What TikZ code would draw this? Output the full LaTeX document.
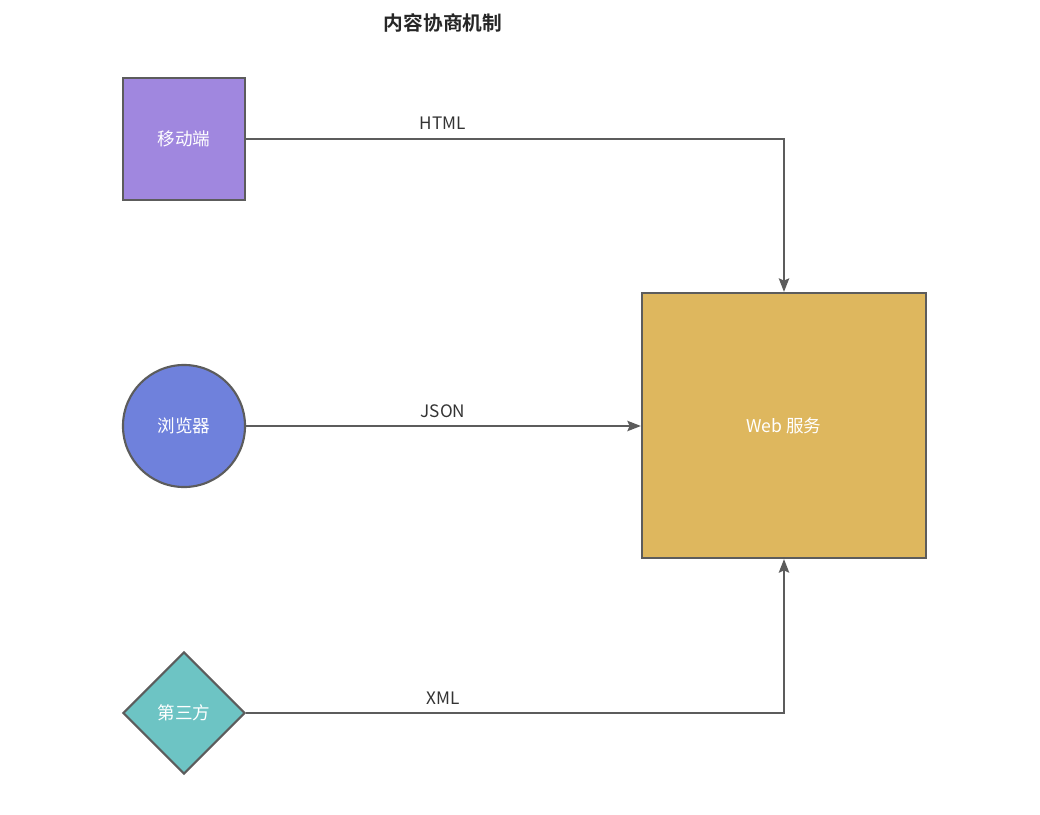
\documentclass[tikz,border=0pt]{standalone}
\usepackage{fontspec}
\setmainfont{Noto Sans CJK SC}[BoldFont={Noto Sans CJK SC Bold}]
\usetikzlibrary{shapes.geometric,arrows.meta}

\definecolor{edgegray}{HTML}{5C5C5C}
\definecolor{mobilefill}{HTML}{A087DF}
\definecolor{browserfill}{HTML}{6F81DC}
\definecolor{thirdfill}{HTML}{6DC4C4}
\definecolor{webfill}{HTML}{DEB75E}
\definecolor{labelgray}{HTML}{333333}

\tikzset{
  client/.style={draw=edgegray,line width=1.5pt,text=white,font=\fontsize{12.5}{14}\selectfont,inner sep=0pt},
  flow/.style={draw=edgegray,line width=1.5pt,-{Stealth[length=3.4mm,width=2.6mm,inset=0.6mm]}},
  fmt/.style={text=labelgray,font=\fontsize{12.2}{14}\selectfont}
}

\begin{document}
\begin{tikzpicture}[x=0.025cm,y=-0.025cm]
%\draw[help lines] (0,0) grid (1040,815);
\useasboundingbox (0,0) rectangle (1040,815);

\node[font=\bfseries\fontsize{14}{16}\selectfont,text=black!85] (title) at (443,23) {内容协商机制};

\node[client,rectangle,fill=mobilefill,minimum width=3.05cm,minimum height=3.05cm] (mobile) at (184,139) {移动端};
\node[client,circle,fill=browserfill,minimum size=3.05cm] (browser) at (184,426) {浏览器};
\node[client,diamond,fill=thirdfill,minimum width=3.05cm,minimum height=3.05cm] (third) at (184,713) {第三方};
\node[client,rectangle,fill=webfill,minimum width=7.1cm,minimum height=6.625cm] (web) at (784,425.5) {Web 服务};

\draw[flow] (mobile.east) -| (web.north);
\draw[flow] (browser.east) -- (browser.east -| web.west);
\draw[flow] (third.east) -| (web.south);

\node[fmt] (html) at (443,123) {HTML};
\node[fmt] (json) at (443,411) {JSON};
\node[fmt] (xml) at (443,698) {XML};
\end{tikzpicture}
\end{document}
